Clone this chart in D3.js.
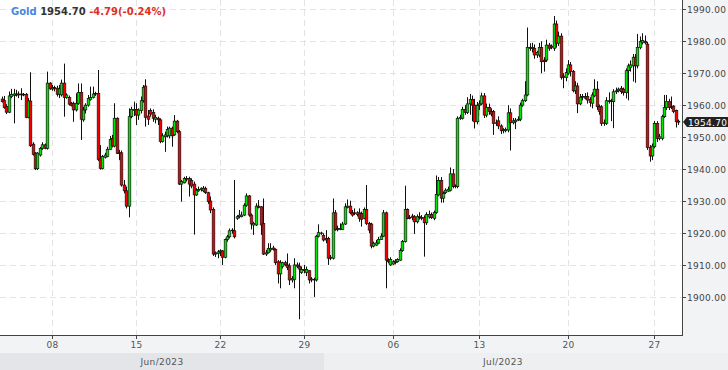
<!DOCTYPE html>
<html><head><meta charset="utf-8">
<script src="https://cdn.jsdelivr.net/npm/d3@7"></script>
<style>html,body{margin:0;padding:0;background:#fff}svg{display:block}</style>
</head><body>
<svg id="chart" width="728" height="370"></svg>
<script>
const opens = [1961.9,1961.4,1959.6,1957.8,1962.7,1963.0,1963.5,1963.2,1963.5,1963.2,1963.4,1956.1,1961.3,1947.8,1945.0,1940.1,1944.4,1946.5,1947.6,
1946.5,1966.9,1965.1,1965.5,1965.3,1963.4,1963.2,1966.9,1962.4,1962.4,1960.6,1960.6,1958.5,1960.6,1964.0,1955.4,1958.5,1960.0,1961.8,1962.4,
1963.7,1963.7,1943.4,1940.2,1943.7,1943.9,1946.2,1949.6,1947.2,1955.9,1945.1,1945.1,1935.0,1933.2,1928.4,1956.4,1958.3,1958.7,1956.9,1958.3,
1961.4,1966.0,1956.6,1958.3,1957.7,1955.6,1955.9,1955.4,1948.6,1950.1,1950.4,1950.4,1952.8,1950.7,1955.0,1951.7,1935.3,1935.7,1937.1,1937.1,
1936.4,1935.3,1931.9,1933.2,1933.6,
1933.2,1934.0,1932.6,1930.0,1927.4,1913.8,1913.6,1914.1,1914.4,1912.4,1918.0,1918.8,1920.7,
1920.7,1924.6,1925.1,1925.1,1925.6,1928.7,1931.6,1925.6,1922.5,1922.5,1928.4,1928.2,1923.0,1913.4,1913.8,1914.7,1915.3,
1914.9,1911.0,1907.2,1909.5,1910.7,
1910.0,1909.7,1905.3,1905.5,1910.0,
1909.6,1907.6,1908.6,1907.6,1908.2,1905.3,
1905.3,1905.3,1919.0,1919.9,1919.2,1918.3,1918.3,1912.4,1912.1,1926.3,1921.4,
1921.1,1921.1,1922.8,1928.0,1928.4,1926.3,1926.3,1925.8,
1926.3,1926.1,1924.6,1927.4,1923.0,1922.8,1915.9,1916.2,1916.8,1918.0,1919.0,1926.3,1911.5,1910.0,1910.3,1911.2,
1911.0,1911.5,1914.5,1917.3,1927.4,1924.9,1925.3,1925.1,1923.5,1925.1,1924.9,1924.8,1923.2,1925.0,1925.8,
1924.6,1926.4,1931.9,1936.4,1930.9,1932.6,1933.1,1933.4,1938.5,1934.5,1934.5,1955.9,1955.9,1958.7,1957.7,1960.4,1961.8,1960.0,1954.8,1960.0,1960.4,1962.9,1956.9,1959.3,1958.0,
1958.0,1954.3,1955.1,1953.5,1952.0,
1952.0,1952.2,1957.6,1954.5,1954.8,1955.3,1955.6,1960.0,1961.4,1963.2,1978.1,1977.7,1977.8,1975.7,
1975.7,1978.1,1974.1,1974.1,1978.8,1978.5,1977.8,1985.4,1979.4,1981.6,1969.1,1968.7,1970.0,1972.6,1970.5,1964.5,1966.0,1960.4,1962.5,1962.7,
1962.7,1961.8,1960.6,1962.9,1965.0,1959.5,
1959.5,1954.3,1954.3,1961.1,1961.4,1961.1,1964.2,1964.5,1965.3,1965.0,1963.9,1970.8,1971.8,1972.3,1975.0,1972.3,1978.1,1979.6,1980.0,1979.1,1946.8,1944.1,1947.0,1954.3,1949.6,1949.6,1956.4,1959.3,1961.1,
1959.5,1959.7,1958.3,1955.0];
const highs = [1962.7,1962.9,1960.3,1964.3,1965.1,1965.1,1964.8,1964.3,1965.3,1963.8,1963.8,1962.2,1970.3,1948.4,1945.3,1945.3,1946.9,1948.4,1948.0,
1970.5,1967.2,1966.3,1966.1,1966.1,1966.3,1968.0,1973.0,1963.7,1963.0,1961.0,1961.1,1963.7,1966.8,1966.8,1959.5,1960.6,1963.2,1965.8,1965.8,
1964.2,1971.0,1947.5,1944.4,1945.1,1947.0,1950.4,1950.7,1960.6,1956.2,1946.0,1945.8,1936.6,1934.5,1959.0,1959.5,1961.1,1960.6,1959.0,1962.7,
1966.3,1968.1,1958.5,1959.0,1958.7,1957.0,1956.4,1955.9,1951.2,1951.7,1953.3,1953.3,1953.3,1956.9,1955.4,1952.2,1936.6,1937.6,1937.8,1937.6,
1937.1,1936.1,1934.0,1934.5,1934.3,
1934.7,1934.5,1932.9,1931.4,1928.0,1914.2,1914.7,1914.9,1914.7,1918.3,1919.4,1921.4,1921.5,
1936.6,1925.6,1927.2,1926.7,1929.3,1932.4,1931.9,1926.1,1923.5,1929.3,1930.3,1928.4,1930.8,1914.7,1916.8,1916.8,1916.0,
1915.2,1911.5,1911.5,1911.0,1911.3,
1913.6,1910.5,1906.5,1912.1,1910.8,
1910.7,1909.5,1910.0,1909.5,1908.4,1906.2,
1906.0,1919.4,1922.7,1920.4,1919.9,1920.9,1918.8,1913.1,1930.8,1927.2,1922.3,
1923.0,1923.5,1929.3,1930.5,1930.1,1927.2,1927.7,1926.8,
1927.7,1926.7,1928.0,1935.0,1923.5,1923.2,1917.3,1917.8,1918.8,1919.9,1927.2,1926.7,1912.1,1912.4,1911.5,1911.8,
1912.1,1915.2,1917.8,1934.8,1927.7,1925.6,1926.0,1925.6,1925.8,1926.5,1925.6,1925.5,1926.5,1927.0,1926.4,
1927.0,1938.0,1937.5,1937.5,1933.0,1934.0,1934.5,1940.5,1940.0,1935.2,1956.5,1957.0,1959.5,1960.0,1962.5,1963.5,1963.0,1962.0,1961.0,1961.5,1963.9,1963.8,1960.5,1960.5,1959.0,
1958.5,1955.5,1956.5,1954.0,1952.8,
1953.0,1960.0,1959.0,1956.0,1956.0,1956.5,1960.8,1962.0,1967.5,1984.3,1979.4,1979.5,1979.0,1977.0,
1979.5,1980.0,1975.0,1980.5,1979.5,1979.0,1987.9,1986.5,1983.0,1982.5,1970.0,1971.5,1974.1,1973.5,1971.0,1967.5,1967.0,1963.5,1963.5,1963.8,
1964.0,1962.5,1964.0,1968.1,1967.5,1960.2,
1960.0,1955.5,1962.5,1964.0,1962.0,1965.0,1965.5,1965.5,1966.0,1965.5,1971.5,1973.0,1974.0,1976.0,1976.0,1982.3,1981.5,1982.5,1981.8,1979.8,1947.5,1948.0,1955.0,1955.0,1951.0,1957.0,1963.2,1963.2,1962.0,
1962.7,1960.0,1958.6,1955.5];
const lows = [1960.8,1958.9,1957.2,1957.5,1962.2,1954.3,1962.7,1962.2,1961.6,1962.8,1955.9,1955.9,1946.9,1944.2,1939.7,1939.7,1943.9,1946.0,1946.2,
1946.1,1964.8,1964.5,1964.3,1962.7,1962.2,1962.7,1956.4,1962.0,1959.9,1959.6,1954.8,1958.0,1960.1,1949.1,1954.8,1957.4,1959.5,1961.4,1962.1,
1962.9,1942.5,1939.8,1939.9,1943.3,1943.7,1946.0,1946.8,1946.8,1944.7,1942.8,1934.5,1932.4,1927.7,1924.9,1955.9,1956.6,1953.8,1955.4,1957.4,
1960.8,1953.3,1953.8,1956.4,1954.8,1954.3,1953.8,1948.1,1948.3,1945.4,1949.9,1949.6,1947.0,1950.4,1951.2,1935.0,1929.8,1935.5,1936.1,1931.4,
1934.0,1919.5,1931.6,1932.9,1933.0,
1932.8,1932.2,1929.1,1926.2,1912.8,1912.5,1912.1,1912.8,1910.0,1912.1,1917.3,1918.3,1919.8,
1918.3,1924.1,1924.6,1924.9,1925.3,1928.2,1925.1,1921.1,1919.4,1922.2,1927.7,1919.4,1913.1,1912.8,1913.6,1914.1,1914.5,
1910.0,1904.2,1902.7,1908.9,1909.6,
1908.4,1903.7,1904.5,1902.7,1909.0,
1893.0,1907.2,1907.4,1906.5,1904.2,1904.6,
1900.0,1904.8,1918.6,1919.4,1917.3,1916.8,1910.0,1911.5,1911.7,1920.7,1920.5,
1920.9,1920.9,1922.5,1927.7,1925.9,1925.1,1925.6,1925.2,
1923.5,1922.0,1924.3,1922.5,1919.9,1915.2,1915.5,1915.9,1916.5,1917.8,1918.8,1902.7,1910.5,1909.7,1910.0,1910.2,
1910.7,1911.3,1914.1,1917.0,1924.3,1924.3,1924.0,1919.7,1923.0,1924.2,1924.0,1912.6,1922.5,1924.5,1924.4,
1924.0,1926.0,1931.5,1929.5,1929.5,1932.2,1932.8,1933.0,1934.0,1934.0,1934.0,1955.4,1955.5,1957.0,1957.2,1957.0,1955.0,1952.7,1954.0,1958.5,1960.0,1956.0,1956.2,1957.0,1956.5,
1950.7,1953.5,1952.5,1951.0,1951.2,
1951.5,1951.5,1945.8,1954.0,1952.5,1955.0,1955.0,1959.5,1961.0,1962.8,1977.0,1976.5,1974.5,1974.8,
1975.0,1970.0,1970.5,1973.5,1977.0,1977.5,1977.0,1978.0,1978.5,1968.0,1965.3,1967.5,1969.5,1969.0,1964.0,1963.5,1957.5,1960.0,1961.5,1961.8,
1960.5,1959.5,1959.0,1962.5,1958.5,1957.0,
1953.5,1953.5,1953.8,1960.5,1955.0,1952.8,1963.5,1964.0,1963.5,1963.0,1962.1,1961.5,1970.5,1967.4,1967.0,1971.5,1977.5,1979.0,1979.0,1946.0,1942.3,1942.8,1946.5,1948.5,1949.0,1949.0,1956.0,1958.5,1958.5,
1958.8,1957.5,1953.0,1953.8];
const closes = [1961.1,1959.2,1957.8,1962.9,1963.4,1963.5,1963.2,1963.5,1963.2,1963.4,1956.1,1961.3,1947.3,1944.6,1940.1,1945.0,1946.5,1947.6,1946.5,
1966.9,1965.1,1965.5,1965.1,1963.4,1965.1,1966.9,1962.4,1963.2,1960.3,1959.9,1958.5,1960.6,1964.0,1955.6,1958.5,1960.0,1962.1,1962.4,1963.5,
1963.5,1943.0,1940.2,1943.9,1944.4,1946.2,1949.3,1947.2,1955.9,1944.9,1944.9,1935.0,1933.2,1928.4,1956.4,1958.7,1958.7,1956.9,1958.5,1961.4,
1965.6,1956.2,1955.6,1957.2,1955.9,1956.2,1955.4,1948.6,1950.4,1950.7,1952.4,1952.8,1950.4,1955.0,1951.7,1935.3,1936.1,1937.1,1936.8,1935.3,
1934.7,1931.9,1933.4,1933.6,1934.0,
1934.0,1932.6,1929.8,1927.2,1913.4,1913.4,1914.1,1914.4,1912.4,1918.0,1918.8,1920.7,1920.9,
1918.8,1925.1,1925.6,1925.6,1928.7,1931.6,1925.6,1922.8,1923.0,1928.4,1928.0,1922.5,1913.4,1913.8,1915.2,1915.2,1914.9,
1910.7,1907.2,1910.7,1910.7,1910.0,
1909.2,1905.3,1905.8,1910.0,1909.6,
1908.7,1908.6,1908.2,1908.6,1905.3,1905.6,
1905.5,1919.0,1920.1,1920.0,1917.8,1917.8,1912.1,1912.1,1926.3,1921.1,1921.0,
1921.4,1922.8,1928.2,1928.4,1926.3,1925.6,1926.1,1926.3,
1924.6,1924.3,1927.4,1923.0,1920.9,1915.9,1916.8,1916.9,1918.0,1919.0,1926.3,1911.5,1911.0,1911.7,1911.0,1910.8,
1911.7,1914.5,1917.3,1927.4,1924.6,1924.6,1924.9,1923.5,1925.1,1924.8,1924.6,1923.2,1925.8,1925.8,1924.8,
1926.4,1932.1,1936.4,1930.9,1932.4,1933.4,1933.7,1938.5,1934.5,1934.7,1955.9,1956.2,1958.7,1957.7,1960.4,1961.8,1960.0,1954.8,1960.0,1960.4,1962.9,1956.9,1959.3,1958.0,1957.2,
1954.3,1954.5,1953.5,1952.0,1952.3,
1952.4,1957.6,1954.5,1955.1,1955.3,1955.6,1960.0,1961.4,1963.2,1978.1,1977.7,1978.1,1975.7,1976.5,
1978.1,1973.6,1973.6,1978.8,1977.8,1978.1,1985.4,1979.4,1981.6,1968.7,1968.7,1970.2,1972.6,1970.5,1964.5,1966.0,1960.4,1962.5,1962.7,1962.2,
1961.6,1960.8,1963.2,1965.0,1959.5,1958.0,
1954.3,1954.5,1961.4,1961.4,1961.1,1964.2,1964.5,1965.0,1964.2,1963.9,1970.8,1972.3,1972.6,1975.0,1972.3,1978.1,1979.9,1980.2,1979.5,1946.8,1944.1,1947.2,1954.3,1949.6,1950.1,1956.4,1959.3,1961.1,1959.3,
1959.3,1958.0,1954.8,1954.7];

const dayTickIndex = [21, 56, 91, 126, 163, 199, 236, 272];
const dayTickLabels = ["08", "15", "22", "29", "06", "13", "20", "27"];
const monthLabels = ["Jun/2023", "Jul/2023"];
const monthStartIndex = [0, 135];
const priceTicks = [1900, 1910, 1920, 1930, 1940, 1950, 1960, 1970, 1980, 1990];
const symbolName = "Gold";
const lastPrice = 1954.70;
const priceChange = -4.79;
const priceChangePct = -0.24;

const W = 728, H = 370;
const plotRight = 682, plotBottom = 335;
const N = closes.length;
const svg = d3.select("#chart");
const FONT = "DejaVu Sans, sans-serif";
const fmt = d3.formatLocale({decimal: ".", thousands: ",", grouping: [3], currency: ["", ""], minus: "-"}).format(".2f");

svg.append("rect").attr("x", 0).attr("y", 0).attr("width", W).attr("height", H).attr("fill", "#f2f3f5");
svg.append("rect").attr("x", 0).attr("y", 0).attr("width", plotRight).attr("height", plotBottom).attr("fill", "#ffffff");

const x = d3.scaleLinear().domain([0, N - 1]).range([1.5, 678.3]);
const y = d3.scaleLinear().domain([1900, 1990]).range([296.9, 9.3]);

// month bands
const monthEnds = monthStartIndex.slice(1).concat([N]);
const monthBand = svg.append("g");
monthStartIndex.forEach((s, i) => {
  const last = i === monthStartIndex.length - 1;
  const x0 = i === 0 ? 0 : Math.round(x(s - 0.5));
  const x1 = last ? W : Math.round(x(monthEnds[i] - 0.5));
  monthBand.append("rect").attr("x", x0).attr("y", 353).attr("width", x1 - x0).attr("height", 17)
    .attr("fill", i % 2 === 0 ? "#e4e5e8" : "#eeeff1");
  const cx = last ? (x0 + plotRight) / 2 : (x0 + x1) / 2;
  monthBand.append("text").attr("x", cx).attr("y", 365).attr("text-anchor", "middle")
    .attr("font-family", FONT).attr("font-size", 9).attr("letter-spacing", 0.4).attr("fill", "#555").text(monthLabels[i]);
});

// grid
const grid = svg.append("g");
priceTicks.forEach(v => {
  grid.append("line").attr("x1", 0).attr("x2", plotRight).attr("y1", Math.round(y(v)) + 0.5).attr("y2", Math.round(y(v)) + 0.5)
    .attr("stroke", "#e3e3e3").attr("stroke-dasharray", "6,4");
});
dayTickIndex.forEach(i => {
  grid.append("line").attr("x1", Math.round(x(i)) + 0.5).attr("x2", Math.round(x(i)) + 0.5).attr("y1", 0).attr("y2", plotBottom)
    .attr("stroke", "#e3e3e3").attr("stroke-dasharray", "6,4");
});

// candles
const data = d3.range(N).map(i => ({o: opens[i], h: highs[i], l: lows[i], c: closes[i], i}));
const cg = svg.append("g");
const cxOf = d => Math.round(x(d.i)) + 0.5;
cg.selectAll("line.wick").data(data).join("line").attr("class", "wick")
  .attr("x1", cxOf).attr("x2", cxOf)
  .attr("y1", d => y(d.h)).attr("y2", d => y(d.l)).attr("stroke", "#111").attr("stroke-width", 1);
cg.selectAll("rect.body").data(data).join("rect").attr("class", "body")
  .attr("x", d => cxOf(d) - 1.3).attr("width", 2.6)
  .attr("y", d => Math.min(y(d.o), y(d.c)))
  .attr("height", d => Math.max(0.6, Math.abs(y(d.o) - y(d.c))))
  .attr("fill", d => d.c >= d.o ? "#00e600" : "#f50000")
  .attr("stroke", "#111").attr("stroke-width", 0.7);

// axes
const ax = svg.append("g");
ax.append("line").attr("x1", plotRight + 0.5).attr("x2", plotRight + 0.5).attr("y1", 0).attr("y2", plotBottom + 1).attr("stroke", "#444");
ax.append("line").attr("x1", 0).attr("x2", plotRight + 1).attr("y1", plotBottom + 0.5).attr("y2", plotBottom + 0.5).attr("stroke", "#444");
priceTicks.forEach(v => {
  const yy = Math.round(y(v)) + 0.5;
  ax.append("line").attr("x1", plotRight).attr("x2", plotRight + 4).attr("y1", yy).attr("y2", yy).attr("stroke", "#444");
  ax.append("text").attr("x", plotRight + 5).attr("y", yy + 3.5).attr("font-family", FONT).attr("font-size", 9)
    .attr("letter-spacing", 0.3).attr("fill", "#444").text(fmt(v));
});
dayTickIndex.forEach((idx, k) => {
  const xx = Math.round(x(idx)) + 0.5;
  ax.append("line").attr("x1", xx).attr("x2", xx).attr("y1", plotBottom).attr("y2", plotBottom + 4).attr("stroke", "#444");
  ax.append("text").attr("x", xx).attr("y", 348).attr("text-anchor", "middle").attr("font-family", FONT).attr("font-size", 9)
    .attr("letter-spacing", 0.3).attr("fill", "#555").text(dayTickLabels[k]);
});

// last price tag
const ly = y(lastPrice);
const tag = svg.append("g");
tag.append("path").attr("d", `M${plotRight + 1},${ly} L${plotRight + 5},${ly - 5} L${W},${ly - 5} L${W},${ly + 5} L${plotRight + 5},${ly + 5} Z`).attr("fill", "#222");
tag.append("text").attr("x", plotRight + 6).attr("y", ly + 3.5).attr("font-family", FONT).attr("font-size", 9)
  .attr("letter-spacing", 0.3).attr("fill", "#fff").text(fmt(lastPrice));

// legend
const lg = svg.append("text").attr("x", 11).attr("y", 15).attr("font-family", FONT).attr("font-size", 10).attr("font-weight", "bold");
lg.append("tspan").attr("fill", "#4a84e6").text(symbolName + " ");
lg.append("tspan").attr("fill", "#333").text(fmt(lastPrice) + " ");
lg.append("tspan").attr("fill", "#e0301e").text(`${fmt(priceChange)}(${fmt(priceChangePct)}%)`);
</script>
</body></html>
